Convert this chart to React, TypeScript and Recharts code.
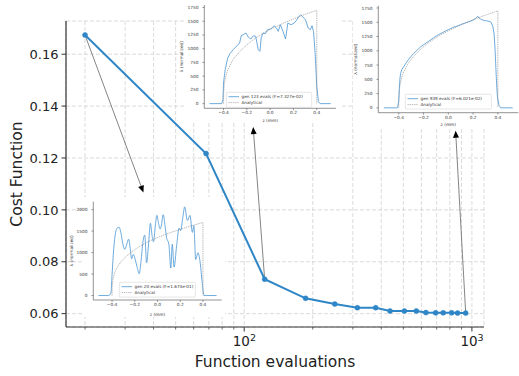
import { LineChart, Line, XAxis, YAxis, CartesianGrid, ReferenceLine } from 'recharts'

const FONT = '"DejaVu Sans", sans-serif'
const BLUE = '#2f86c6'
const INSET_BLUE = '#4a95d3'
const TEXT = '#222'

// convergence: best cost vs number of function evaluations
const evals = [20, 68, 123, 186, 250, 314, 378, 437, 505, 570, 628, 693, 748, 815, 865, 939]
const cost = [0.1674, 0.1217, 0.07327, 0.0659, 0.0637, 0.0623, 0.0623, 0.061, 0.061, 0.061, 0.0604, 0.0603, 0.0603, 0.0603, 0.0602, 0.06021]
const xGridTicks = [20, 30, 40, 50, 60, 70, 80, 90, 100, 200, 300, 400, 500, 600, 700, 800, 900, 1000]
const yTicks = [0.06, 0.08, 0.1, 0.12, 0.14, 0.16]

// arrows from a point on the curve to its inset (data coords)
const arrowFromEvals = [20, 123, 939]
const arrowFromCost = [0.1674, 0.07327, 0.06021]
const arrowToEvals = [36.1, 109.5, 848]
const arrowToCost = [0.1067, 0.1319, 0.1305]

// analytical profile, same in every inset
const analyticZ = [-0.4, -0.399, -0.395, -0.39, -0.38, -0.37, -0.36, -0.34, -0.32, -0.3, -0.27, -0.24, -0.2, -0.16, -0.12, -0.08, -0.04, 0, 0.04, 0.08, 0.12, 0.16, 0.2, 0.24, 0.28, 0.32, 0.36, 0.4, 0.4]
const analyticL = [0, 180, 320, 400, 500, 575, 630, 715, 790, 850, 925, 990, 1070, 1140, 1200, 1255, 1305, 1350, 1390, 1430, 1470, 1505, 1540, 1575, 1610, 1640, 1670, 1700, 0]

// generation 20
const gen20Z = [-0.52, -0.43, -0.41, -0.4, -0.385, -0.37, -0.355, -0.338, -0.322, -0.305, -0.288, -0.27, -0.254, -0.24, -0.228, -0.213, -0.196, -0.178, -0.161, -0.145, -0.128, -0.112, -0.096, -0.08, -0.062, -0.048, -0.035, -0.02, -0.006, 0.008, 0.023, 0.035, 0.05, 0.065, 0.08, 0.1, 0.117, 0.13, 0.146, 0.168, 0.19, 0.204, 0.222, 0.239, 0.263, 0.286, 0.307, 0.32, 0.336, 0.356, 0.374, 0.394, 0.41, 0.43, 0.52]
const gen20L = [0, 0, 60, 480, 1100, 1450, 1570, 1590, 1460, 1200, 1075, 1200, 1312, 1100, 854, 957, 838, 650, 506, 800, 1250, 1407, 760, 1150, 1680, 1400, 1250, 1600, 1866, 1700, 1549, 1650, 1881, 1650, 1350, 1194, 640, 1194, 664, 1150, 1565, 1510, 1800, 2063, 1747, 1866, 1470, 1628, 838, 996, 798, 285, 0, 0, 0]

// generation 123
const gen123Z = [-0.52, -0.415, -0.405, -0.4, -0.386, -0.364, -0.345, -0.317, -0.29, -0.262, -0.248, -0.226, -0.207, -0.188, -0.166, -0.143, -0.124, -0.102, -0.088, -0.077, -0.061, -0.041, -0.022, 0.006, 0.033, 0.055, 0.069, 0.088, 0.11, 0.132, 0.152, 0.179, 0.207, 0.226, 0.243, 0.262, 0.281, 0.303, 0.326, 0.345, 0.359, 0.372, 0.386, 0.4, 0.414, 0.428, 0.52]
const gen123L = [0, 0, 80, 375, 618, 830, 909, 982, 1042, 1103, 1236, 1260, 1285, 1212, 1176, 1236, 1224, 982, 951, 1194, 1285, 1273, 1345, 1358, 1418, 1376, 1315, 1436, 1315, 1176, 1467, 1436, 1467, 1515, 1576, 1618, 1576, 1527, 1376, 1345, 1418, 1315, 921, 315, 42, 0, 0]

// generation 939
const gen939Z = [-0.52, -0.42, -0.41, -0.4, -0.395, -0.39, -0.385, -0.375, -0.36, -0.34, -0.32, -0.3, -0.28, -0.26, -0.24, -0.22, -0.2, -0.18, -0.16, -0.14, -0.12, -0.1, -0.08, -0.06, -0.04, -0.02, 0, 0.02, 0.04, 0.06, 0.08, 0.1, 0.12, 0.14, 0.16, 0.18, 0.2, 0.22, 0.238, 0.25, 0.27, 0.29, 0.31, 0.33, 0.345, 0.36, 0.37, 0.378, 0.384, 0.39, 0.397, 0.41, 0.424, 0.52]
const gen939L = [0, 0, 5, 120, 350, 520, 600, 670, 720, 790, 850, 905, 950, 995, 1035, 1075, 1105, 1135, 1165, 1195, 1225, 1255, 1280, 1305, 1325, 1350, 1370, 1390, 1410, 1425, 1440, 1460, 1475, 1490, 1505, 1520, 1540, 1565, 1605, 1570, 1545, 1530, 1525, 1515, 1500, 1420, 1290, 1000, 700, 420, 180, 40, 0, 0]

const zTicks = [-0.4, -0.2, 0, 0.2, 0.4]
const lambdaTicks1750 = [0, 250, 500, 750, 1000, 1250, 1500, 1750]
const lambdaTicks2000 = [0, 500, 1000, 1500, 2000]

const toRows = (zs: number[], ls: number[]) => zs.map((z, i) => ({ z, v: ls[i] }))
const mainData = evals.map((e, i) => ({ evals: e, cost: cost[i] }))
const analyticRows = toRows(analyticZ, analyticL)

function LogTick(props: any) {
  const { x, y, payload } = props
  const lg = Math.log10(payload.value)
  const exp = Math.round(lg)
  const major = Math.abs(lg - exp) < 1e-9
  return (
    <g>
      <line x1={x} x2={x} y1={y} y2={y + (major ? 4.5 : 2.6)} stroke="#333" strokeWidth={major ? 1 : 0.7} />
      {major && (
        <text x={x - 11.5} y={y + 19} fill={TEXT} fontSize={13.5} fontFamily={FONT}>
          10<tspan dy={-5.5} fontSize={9.5}>{exp}</tspan>
        </text>
      )}
    </g>
  )
}

function YTick(props: any) {
  const { x, y, payload } = props
  return (
    <text x={x} y={y} dy={4.7} textAnchor="end" fill={TEXT} fontSize={13} fontFamily={FONT}>
      {payload.value.toFixed(2)}
    </text>
  )
}

function Arrow(props: any) {
  const { x1, y1, x2, y2 } = props
  const dx = x2 - x1
  const dy = y2 - y1
  const len = Math.hypot(dx, dy) || 1
  const ux = dx / len
  const uy = dy / len
  const bx = x2 - ux * 7
  const by = y2 - uy * 7
  return (
    <g>
      <line x1={x1} y1={y1} x2={bx} y2={by} stroke="#666" strokeWidth={0.8} />
      <polygon points={`${x2},${y2} ${bx - uy * 3},${by + ux * 3} ${bx + uy * 3},${by - ux * 3}`} fill="#000" />
    </g>
  )
}

const zFormat = (v: number) => (v === 0 ? '0.0' : (v < 0 ? '\u2212' : '') + Math.abs(v).toFixed(1))

type InsetProps = {
  box: number[] // left, top, width, height of the inset figure
  frame: number[] // left, top, right, bottom offsets of the plot frame
  bg: number[] // white background left, top, width, height
  legend: number[] // legend box inside the inset
  rows: { z: number; v: number }[]
  yDomain: number[]
  yTicks: number[]
  smooth: boolean
  label: string
}

function Inset({ box, frame, bg, legend, rows, yDomain, yTicks, smooth, label }: InsetProps) {
  const axisStroke = { stroke: '#666', strokeWidth: 0.7 }
  const tickStyle = { fill: '#333', fontSize: 4.3, fontFamily: FONT }
  return (
    <>
      <div style={{ position: 'absolute', left: bg[0], top: bg[1], width: bg[2], height: bg[3], background: '#fff' }} />
      <div style={{ position: 'absolute', left: box[0], top: box[1], width: box[2], height: box[3] }}>
        <LineChart width={box[2]} height={box[3]} margin={{ top: frame[1], right: frame[2], bottom: 0, left: 0 }}>
          <XAxis
            dataKey="z"
            type="number"
            domain={[-0.565, 0.565]}
            allowDataOverflow
            ticks={zTicks}
            interval={0}
            tickFormatter={zFormat}
            tick={tickStyle}
            fontSize={4.3}
            tickSize={1.8}
            tickMargin={1}
            tickLine={axisStroke}
            axisLine={axisStroke}
            height={frame[3]}
            label={{ value: 'z (mm)', position: 'insideBottom', offset: 1.5, fontSize: 4.3, fill: '#333', fontFamily: FONT }}
          />
          <XAxis xAxisId="top" orientation="top" type="number" domain={[0, 1]} tick={false} tickLine={false} height={0} axisLine={axisStroke} />
          <YAxis
            type="number"
            domain={yDomain}
            allowDataOverflow
            ticks={yTicks}
            interval={0}
            tick={tickStyle}
            fontSize={4.3}
            tickSize={1.8}
            tickMargin={4}
            tickLine={axisStroke}
            axisLine={axisStroke}
            width={frame[0]}
            label={{
              value: 'λ (normalized)',
              content: (p: any) => {
                const vb = p.viewBox || { x: 0, y: 0, width: 0, height: 0 }
                const cx = vb.x + 3.2
                const cy = vb.y + vb.height / 2
                return (
                  <text x={cx} y={cy} transform={`rotate(-90 ${cx} ${cy})`} textAnchor="middle" dominantBaseline="central" fontSize={4.3} fill="#333" fontFamily={FONT}>
                    λ (normalized)
                  </text>
                )
              },
            }}
          />
          <YAxis yAxisId="right" orientation="right" type="number" domain={[0, 1]} tick={false} tickLine={false} width={0} axisLine={axisStroke} />
          <Line data={rows} dataKey="v" type={smooth ? 'monotone' : 'linear'} stroke={INSET_BLUE} strokeWidth={0.8} dot={false} isAnimationActive={false} />
          <Line data={analyticRows} dataKey="v" type="linear" stroke="#8a8a8a" strokeWidth={0.6} strokeDasharray="1.4 0.8" dot={false} isAnimationActive={false} />
        </LineChart>
        <svg style={{ position: 'absolute', left: legend[0], top: legend[1], overflow: 'visible' }} width={legend[2]} height={legend[3]}>
          <rect x={0.3} y={0.3} width={legend[2] - 0.6} height={legend[3] - 0.6} rx={1} fill="#fff" fillOpacity={0.8} stroke="#ccc" strokeWidth={0.5} />
          <line x1={2.5} x2={13} y1={4.7} y2={4.7} stroke={INSET_BLUE} strokeWidth={0.8} />
          <text x={15.5} y={4.7} dominantBaseline="central" fontSize={4.2} fill="#333" fontFamily={FONT}>{label}</text>
          <line x1={2.5} x2={13} y1={10.6} y2={10.6} stroke="#8a8a8a" strokeWidth={0.6} strokeDasharray="1.4 0.8" />
          <text x={15.5} y={10.6} dominantBaseline="central" fontSize={4.2} fill="#333" fontFamily={FONT}>Analytical</text>
        </svg>
      </div>
    </>
  )
}

export default function App() {
  const spine = { stroke: '#333', strokeWidth: 1.2 }
  return (
    <div style={{ position: 'absolute', left: 0, top: 0, width: 519, height: 376, background: '#fff', fontFamily: FONT }}>
      <LineChart width={519} height={376} data={mainData} margin={{ top: 21, right: 35, bottom: 9, left: 10 }}>
        <CartesianGrid stroke="#d2d2d2" strokeDasharray="4 2" strokeWidth={0.8} />
        <XAxis
          dataKey="evals"
          type="number"
          scale="log"
          domain={[16.5, 1130]}
          allowDataOverflow
          ticks={xGridTicks}
          interval={0}
          tick={<LogTick />}
          tickSize={0}
          tickMargin={0}
          tickLine={false}
          axisLine={spine}
          height={40}
          label={{ value: 'Function evaluations', position: 'insideBottom', offset: 0, fontSize: 15.5, fill: TEXT, fontFamily: FONT }}
        />
        <XAxis xAxisId="top" orientation="top" type="number" domain={[0, 1]} tick={false} tickLine={false} height={0} axisLine={spine} />
        <YAxis
          type="number"
          domain={[0.05485, 0.1728]}
          allowDataOverflow
          ticks={yTicks}
          interval={0}
          tick={<YTick />}
          tickSize={4.5}
          tickMargin={3}
          tickLine={{ stroke: '#333' }}
          axisLine={spine}
          width={56}
          label={{
            value: 'Cost Function',
            content: (p: any) => {
              const vb = p.viewBox || { x: 0, y: 0, width: 0, height: 0 }
              const cx = 17
              const cy = vb.y + vb.height / 2
              return (
                <text x={cx} y={cy} transform={`rotate(-90 ${cx} ${cy})`} textAnchor="middle" dominantBaseline="central" fontSize={15.5} fill={TEXT} fontFamily={FONT}>
                  Cost Function
                </text>
              )
            },
          }}
        />
        <YAxis yAxisId="right" orientation="right" type="number" domain={[0, 1]} tick={false} tickLine={false} width={0} axisLine={spine} />
        {arrowFromEvals.map((e, i) => (
          <ReferenceLine
            key={i}
            segment={[
              { x: e, y: arrowFromCost[i] },
              { x: arrowToEvals[i], y: arrowToCost[i] },
            ]}
            shape={<Arrow />}
          />
        ))}
        <Line dataKey="cost" type="linear" stroke={BLUE} strokeWidth={2} dot={{ r: 2.5, fill: BLUE, stroke: BLUE, strokeWidth: 0.5 }} isAnimationActive={false} />
      </LineChart>

      <Inset
        box={[68, 197, 157, 120]}
        frame={[25.3, 4.7, 3.3, 17]}
        bg={[84, 197, 141, 120]}
        legend={[51, 85.3, 76.7, 15.4]}
        rows={toRows(gen20Z, gen20L)}
        yDomain={[-104, 2184]}
        yTicks={lambdaTicks2000}
        smooth
        label="gen 20 evals (F=1.674e-01)"
      />
      <Inset
        box={[178, 0, 162, 123]}
        frame={[26.3, 5, 4, 14.7]}
        bg={[185, 0, 155, 123]}
        legend={[47.7, 91.7, 86, 15.6]}
        rows={toRows(gen123Z, gen123L)}
        yDomain={[-85, 1795]}
        yTicks={lambdaTicks1750}
        smooth={false}
        label="gen 123 evals (F=7.327e-02)"
      />
      <Inset
        box={[352, 0, 167, 127]}
        frame={[26.3, 5.7, 0.7, 14.3]}
        bg={[353, 0, 166, 127]}
        legend={[53, 94, 86.7, 15.3]}
        rows={toRows(gen939Z, gen939L)}
        yDomain={[-85, 1790]}
        yTicks={lambdaTicks1750}
        smooth={false}
        label="gen 939 evals (F=6.021e-02)"
      />
    </div>
  )
}
